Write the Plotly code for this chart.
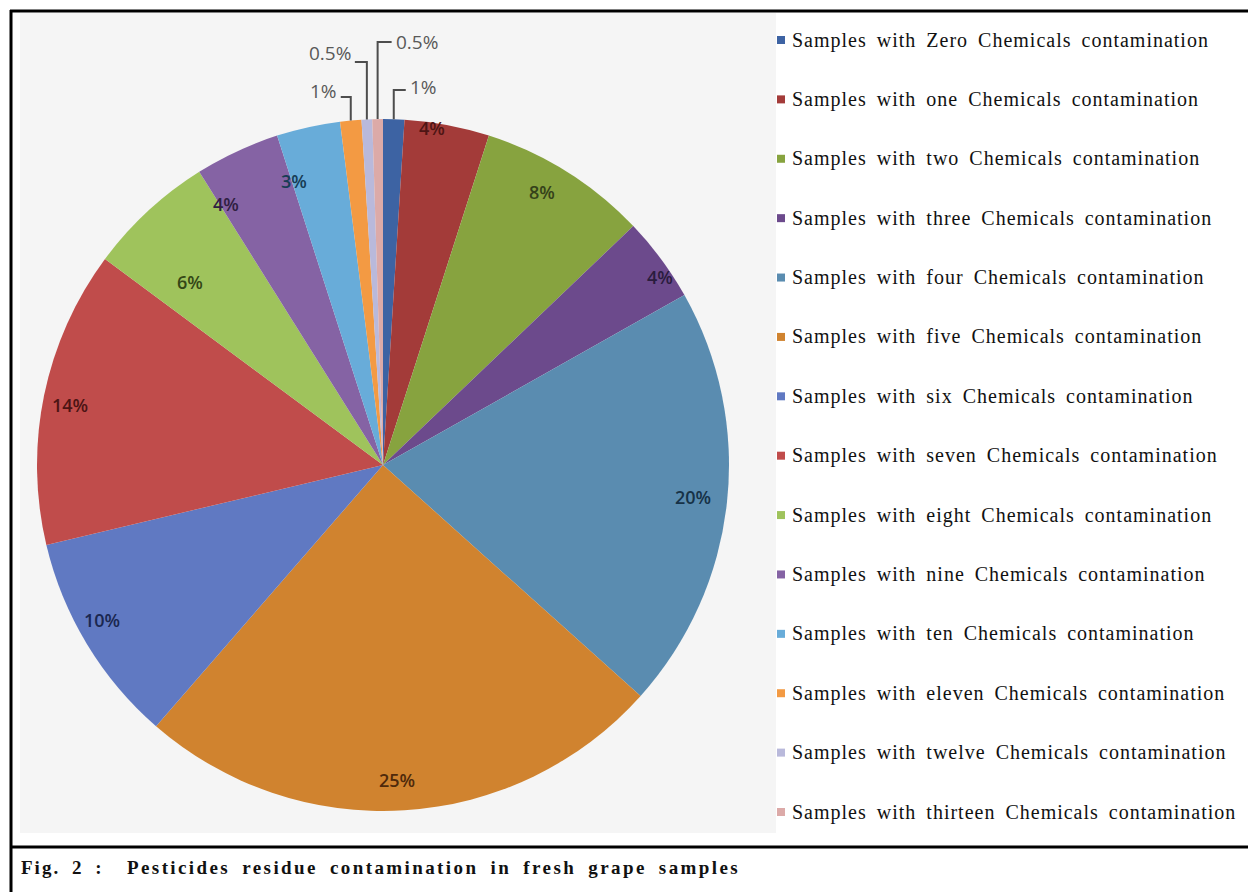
import math
import plotly.graph_objects as go

# Share of grape samples by number of pesticide residues detected
categories = [
    "Samples with Zero Chemicals contamination",
    "Samples with one Chemicals contamination",
    "Samples with two Chemicals contamination",
    "Samples with three Chemicals contamination",
    "Samples with four Chemicals contamination",
    "Samples with five Chemicals contamination",
    "Samples with six Chemicals contamination",
    "Samples with seven Chemicals contamination",
    "Samples with eight Chemicals contamination",
    "Samples with nine Chemicals contamination",
    "Samples with ten Chemicals contamination",
    "Samples with eleven Chemicals contamination",
    "Samples with twelve Chemicals contamination",
    "Samples with thirteen Chemicals contamination",
]
percent = [1, 4, 8, 4, 20, 25, 10, 14, 6, 4, 3, 1, 0.5, 0.5]

caption_tag = "Fig. 2 :"
caption_text = "Pesticides residue contamination in fresh grape samples"

# ---- styling -------------------------------------------------------------
colors = ["#3d63a3", "#a33b39", "#87a33f", "#6c4a8c", "#5a8cb0", "#d0832f",
          "#6079c2", "#c04c4b", "#9fc35c", "#8563a4", "#68acd9", "#f39a43",
          "#b9b9db", "#dcaaa8"]
label_colors = ["#333333", "#4e1514", "#35421a", "#2a1c3e", "#163247", "#4f2a0b",
                "#1a2750", "#4c1414", "#344716", "#302042", "#173d55",
                "#595959", "#595959", "#595959"]
# in-slice label placement: (fraction of radius, angular nudge in degrees)
inside_pos = {1: (0.985, -2.5), 2: (0.913, -1.9), 3: (0.967, 2.3),
              4: (0.90, -0.3), 5: (0.91, 1.1), 6: (0.928, 2.3),
              7: (0.92, -0.7), 8: (0.77, -3.7), 9: (0.88, -6.0),
              10: (0.86, -5.0)}
# leader-line callouts for the thin slices: (elbow y px, horizontal run px, label dy px)
callouts = {0: (90, 12, -3), 11: (97, -10, -6), 12: (62, -12, -9), 13: (42, 14, 0)}

W, H = 1248, 892
CX, CY, R = 383, 465, 346


def fx(x):
    return x / W


def fy(y):
    return 1 - y / H


total = sum(percent)
mid_angles = []
acc = 0.0
for v in percent:
    mid_angles.append((acc + v / 2) / total * 2 * math.pi)
    acc += v


def polar(theta, rad):
    return CX + rad * math.sin(theta), CY - rad * math.cos(theta)


fig = go.Figure(go.Pie(
    labels=categories,
    values=percent,
    sort=False,
    direction="clockwise",
    rotation=0,
    textinfo="none",
    hovertemplate="%{label}: %{value}%<extra></extra>",
    marker=dict(colors=colors, line=dict(width=0)),
    domain=dict(x=[fx(CX - R), fx(CX + R)], y=[fy(CY + R), fy(CY - R)]),
    showlegend=False,
))

shapes = [
    dict(type="rect", xref="paper", yref="paper", x0=fx(20), x1=fx(776),
         y0=fy(833), y1=fy(13), fillcolor="#f5f5f5", line=dict(width=0),
         layer="below"),
    dict(type="line", xref="paper", yref="paper", x0=fx(11), x1=fx(11),
         y0=fy(10), y1=fy(892), line=dict(color="black", width=3)),
    dict(type="line", xref="paper", yref="paper", x0=fx(10), x1=fx(1248),
         y0=fy(11), y1=fy(11), line=dict(color="black", width=3)),
    dict(type="line", xref="paper", yref="paper", x0=fx(10), x1=fx(1248),
         y0=fy(847), y1=fy(847), line=dict(color="black", width=3)),
]
annotations = []

label_font = "Open Sans, Lato, sans-serif"

# percentage labels inside the wider slices
for i, (frac, nudge) in inside_pos.items():
    x, y = polar(mid_angles[i] + math.radians(nudge), R * frac)
    annotations.append(dict(
        x=fx(x), y=fy(y), xref="paper", yref="paper", showarrow=False,
        text=f"{percent[i]:g}%", xanchor="center", yanchor="middle",
        font=dict(family=label_font, size=18, color=label_colors[i],
                  weight=600)))

# elbow callouts for the thin slices at the top
for i, (elbow_y, run, dy) in callouts.items():
    x0, y0 = polar(mid_angles[i], R)
    x1 = x0 + run
    path = f"M {fx(x0)} {fy(y0)} L {fx(x0)} {fy(elbow_y)} L {fx(x1)} {fy(elbow_y)}"
    shapes.append(dict(type="path", xref="paper", yref="paper", path=path,
                       line=dict(color="#4d4d4d", width=2)))
    annotations.append(dict(
        x=fx(x1 + (2 if run > 0 else -2)), y=fy(elbow_y + dy),
        xref="paper", yref="paper", showarrow=False,
        text=f"{percent[i]:g}%", xanchor="left" if run > 0 else "right",
        yanchor="middle",
        font=dict(family=label_font, size=19, color="#595959", weight=500)))

# legend drawn as a column of swatches and serif labels
ROW0, ROW_STEP = 40, (812 - 40) / 13
for i, name in enumerate(categories):
    yc = ROW0 + i * ROW_STEP
    shapes.append(dict(type="rect", xref="paper", yref="paper",
                       x0=fx(777), x1=fx(785), y0=fy(yc + 4), y1=fy(yc - 4),
                       fillcolor=colors[i], line=dict(width=0)))
    annotations.append(dict(
        x=fx(790), y=fy(yc), xref="paper", yref="paper", showarrow=False,
        text=f"<span style='letter-spacing:1px;word-spacing:4px'>{name}</span>",
        xanchor="left", yanchor="middle",
        font=dict(family="Liberation Serif, Times New Roman, serif", size=20,
                  color="#111111")))

# figure caption
annotations.append(dict(
    x=fx(19), y=fy(867), xref="paper", yref="paper", showarrow=False,
    text=f"<b><span style='letter-spacing:2px;word-spacing:5px'>{caption_tag}</span></b>",
    xanchor="left", yanchor="middle",
    font=dict(family="Liberation Serif, Times New Roman, serif", size=19,
              color="#111111")))
annotations.append(dict(
    x=fx(125), y=fy(867), xref="paper", yref="paper", showarrow=False,
    text=f"<b><span style='letter-spacing:2.4px;word-spacing:5px'>{caption_text}</span></b>",
    xanchor="left", yanchor="middle",
    font=dict(family="Liberation Serif, Times New Roman, serif", size=19,
              color="#111111")))

fig.update_layout(
    width=W, height=H,
    margin=dict(l=0, r=0, t=0, b=0),
    paper_bgcolor="white",
    plot_bgcolor="white",
    shapes=shapes,
    annotations=annotations,
)

fig.write_html("out.html")
